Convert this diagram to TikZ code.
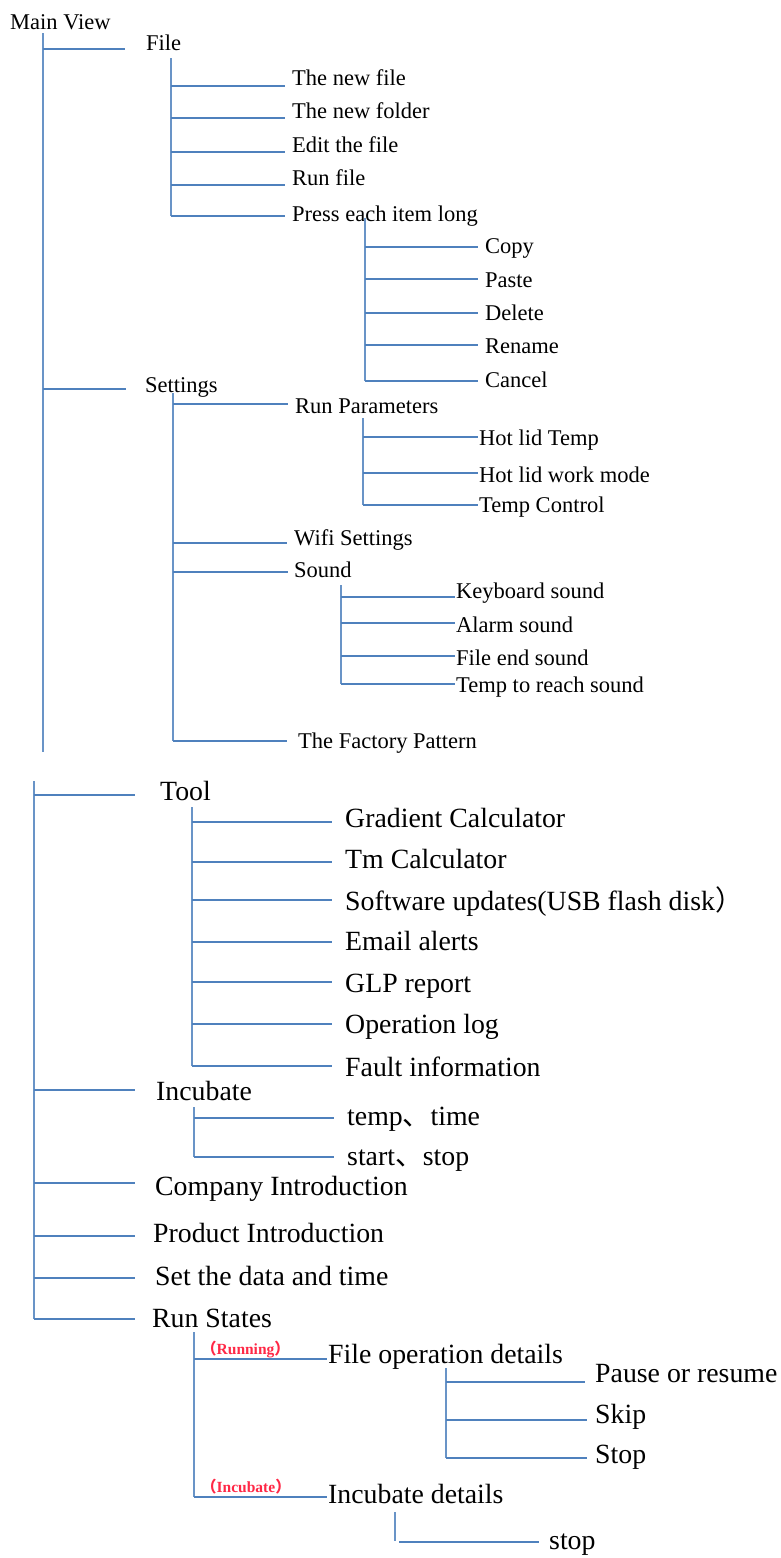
\documentclass[tikz,border=0pt]{standalone}
\usepackage{fontspec}
\setmainfont{Liberation Serif}
\newfontfamily\cjk{Noto Sans CJK SC}
\definecolor{lnblue}{RGB}{79,129,189}
\definecolor{lblred}{RGB}{255,40,70}
\newcommand\cjc[1]{{\cjk #1}}
\newcommand\leaf[7]{%
  \coordinate (#1-a) at (#2,#4);
  \coordinate (#1-b) at (#3,#4);
  \node[lbl] (#1) at (#5,#6) {#7};
  \draw[hl] (#1-a) -- (#1-b);
}
\newcommand\trunk[4]{%
  \coordinate (#1-t) at (#2,#3);
  \coordinate (#1-u) at (#2,#4);
  \draw[vl] (#1-t) -- (#1-u);
}
\tikzset{
  hl/.style={draw=lnblue, line width=1.4pt},
  vl/.style={draw=lnblue!85, line width=1.9pt},
  lbl/.style={anchor=base west, inner sep=0pt, text=black, font=\fontsize{22.5}{27}\selectfont},
  redlbl/.style={anchor=base west, inner sep=0pt, text=lblred, font=\fontsize{15.5}{18}\selectfont\bfseries}
}
\begin{document}
\begin{tikzpicture}[x=1pt,y=-1pt]
\useasboundingbox[fill=white] (0,0) rectangle (781,1558);
% ---------- top part ----------
\node[lbl] (main) at (10,29) {Main View};
\trunk{t0}{43}{33}{752}
\leaf{file}{43}{125}{49}{146}{50}{File}
\trunk{t1}{171}{58}{216}
\leaf{nfile}{171}{285}{86}{292}{85}{The new file}
\leaf{nfold}{171}{285}{118}{292}{118}{The new folder}
\leaf{edit}{171}{285}{152}{292}{152}{Edit the file}
\leaf{runf}{171}{285}{185}{292}{185}{Run file}
\leaf{press}{171}{285}{216}{292}{221}{Press each item long}
\trunk{t2}{365}{218}{381}
\leaf{copy}{365}{478}{247}{485}{253}{Copy}
\leaf{paste}{365}{478}{279}{485}{287}{Paste}
\leaf{del}{365}{478}{313}{485}{320}{Delete}
\leaf{ren}{365}{478}{345}{485}{353}{Rename}
\leaf{canc}{365}{478}{381}{485}{387}{Cancel}
\leaf{sett}{43}{126}{389}{145}{392}{Settings}
\trunk{t3}{173}{393}{741}
\leaf{runp}{173}{288}{404}{295}{413}{Run Parameters}
\trunk{t4}{363}{418}{505}
\leaf{hlt}{363}{478}{437}{479}{445}{Hot lid Temp}
\leaf{hlw}{363}{478}{473}{479}{482}{Hot lid work mode}
\leaf{tc}{363}{478}{505}{479}{512}{Temp Control}
\leaf{wifi}{173}{287}{543}{294}{545}{Wifi Settings}
\leaf{sound}{173}{288}{572}{294}{577}{Sound}
\trunk{t5}{341}{585}{684}
\leaf{kbs}{341}{455}{597}{456}{598}{Keyboard sound}
\leaf{als}{341}{455}{623}{456}{632}{Alarm sound}
\leaf{fes}{341}{455}{656}{456}{665}{File end sound}
\leaf{trs}{341}{455}{684}{456}{692}{Temp to reach sound}
\leaf{fact}{173}{287}{741}{298}{748}{The Factory Pattern}
% ---------- bottom part ----------
\begin{scope}[lbl/.append style={font=\fontsize{27.8}{33}\selectfont}]
\trunk{t6}{34}{781}{1319}
\leaf{tool}{34}{135}{795}{160}{800}{Tool}
\trunk{t7}{192}{807}{1066}
\leaf{grad}{192}{332}{822}{345}{827}{Gradient Calculator}
\leaf{tm}{192}{332}{862}{345}{868}{Tm Calculator}
\leaf{sw}{192}{332}{900}{345}{910}{Software updates(USB flash disk\cjc{）}}
\leaf{email}{192}{332}{942}{345}{950}{Email alerts}
\leaf{glp}{192}{332}{982}{345}{992}{GLP report}
\leaf{oplog}{192}{332}{1024}{345}{1033}{Operation log}
\leaf{fault}{192}{332}{1066}{345}{1076}{Fault information}
\leaf{incu}{34}{135}{1090}{156}{1100}{Incubate}
\trunk{t8}{194}{1107}{1157}
\leaf{tt}{194}{334}{1118}{347}{1125}{temp\cjc{、}time}
\leaf{ss}{194}{334}{1157}{347}{1165}{start\cjc{、}stop}
\leaf{comp}{34}{135}{1183}{155}{1195}{Company Introduction}
\leaf{prod}{34}{135}{1236}{153}{1242}{Product Introduction}
\leaf{setd}{34}{135}{1278}{155}{1285}{Set the data and time}
\leaf{runs}{34}{135}{1319}{152}{1327}{Run States}
\trunk{t9}{194}{1332}{1497}
\leaf{fod}{194}{327}{1359}{328}{1363}{File operation details}
\leaf{incd}{194}{327}{1497}{328}{1503}{Incubate details}
\trunk{t10}{446}{1368}{1458}
\leaf{pause}{446}{585}{1382}{595}{1382}{Pause or resume}
\leaf{skip}{446}{587}{1420}{595}{1423}{Skip}
\leaf{stopa}{446}{587}{1458}{595}{1463}{Stop}
\trunk{t11}{395}{1512}{1541}
\leaf{stopb}{399}{539}{1542}{549}{1549}{stop}
\end{scope}
\node[redlbl] (rrun) at (201,1354) {\cjc{（}Running\cjc{）}};
\node[redlbl] (rinc) at (201,1492) {\cjc{（}Incubate\cjc{）}};
\end{tikzpicture}
\end{document}
